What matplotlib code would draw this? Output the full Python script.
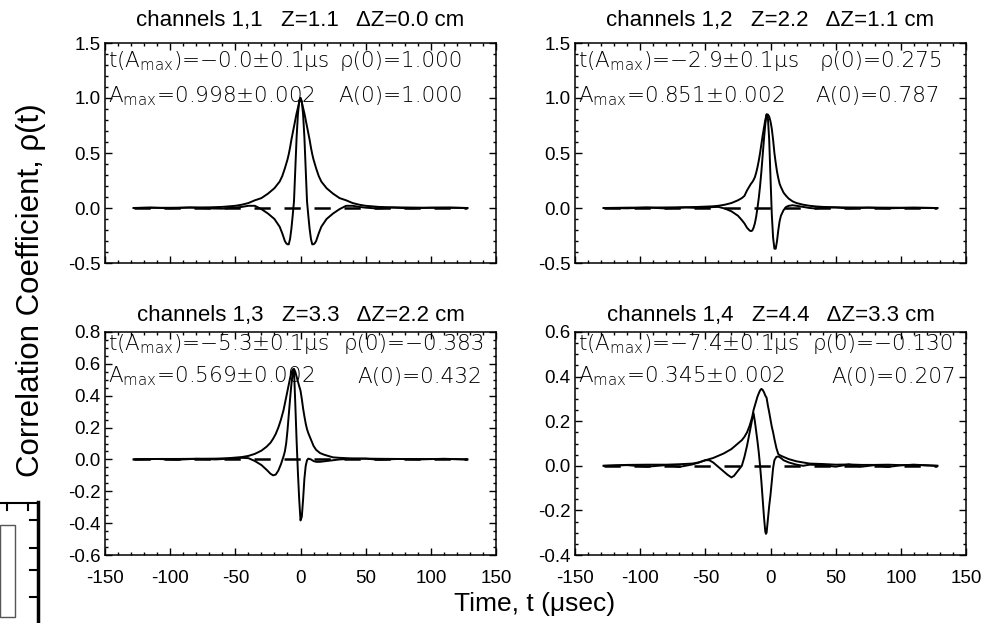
import numpy as np
import matplotlib
matplotlib.use("Agg")
import matplotlib.pyplot as plt
from matplotlib.ticker import MultipleLocator
from matplotlib.lines import Line2D
from matplotlib.patches import Rectangle

plt.rcParams["font.family"] = ["Liberation Sans", "DejaVu Sans"]
plt.rcParams["mathtext.default"] = "regular"
plt.rcParams["axes.unicode_minus"] = False

# ---- data (time lag in microseconds) ----
# channels 1,1
t11 = [-128, -115, -100, -85, -70, -60, -50, -45, -40, -35, -30, -25, -20, -16, -14, -12,
       -11, -10, -9, -8, -7, -6, -5, -4, -3, -2, -1, 0, 1, 2, 3, 4, 5, 6, 7, 8, 9, 10,
       11, 12, 14, 16, 20, 25, 30, 35, 40, 45, 50, 60, 70, 85, 100, 115, 128]
rho11 = [0.0, 0.004, -0.003, 0.005, -0.004, -0.006, 0.004, 0.01, 0.02, 0.02, -0.01, -0.05,
         -0.1, -0.17, -0.23, -0.3, -0.32, -0.33, -0.33, -0.28, -0.19, -0.07, 0.06, 0.35,
         0.64, 0.85, 0.97, 1.0, 0.97, 0.85, 0.64, 0.35, 0.06, -0.07, -0.19, -0.28, -0.33,
         -0.33, -0.32, -0.3, -0.23, -0.17, -0.1, -0.05, -0.01, 0.02, 0.02, 0.01, 0.003,
         -0.005, 0.004, -0.004, 0.003, 0.004, 0.0]
amp11 = [0.0, 0.002, 0.002, 0.004, 0.006, 0.01, 0.02, 0.03, 0.045, 0.07, 0.09, 0.13, 0.18,
         0.24, 0.29, 0.36, 0.4, 0.44, 0.49, 0.55, 0.62, 0.68, 0.74, 0.8, 0.86, 0.91, 0.96,
         1.0, 0.96, 0.91, 0.86, 0.8, 0.74, 0.68, 0.62, 0.55, 0.49, 0.44, 0.4, 0.36, 0.29,
         0.24, 0.18, 0.13, 0.09, 0.07, 0.045, 0.03, 0.02, 0.01, 0.006, 0.004, 0.002,
         0.002, 0.0]

# channels 1,2
t12 = [-128, -110, -95, -80, -65, -55, -45, -40, -35, -30, -25, -22, -20, -18, -16, -15,
       -14, -13, -12, -11, -10, -9, -8, -7, -6, -5, -4, -3, -2, -1, 0, 1, 2, 3, 4, 5, 6,
       7, 8, 10, 12, 14, 17, 20, 25, 30, 35, 40, 50, 60, 75, 90, 110, 128]
rho12 = [0.0, -0.003, 0.004, -0.004, 0.005, 0.0, 0.008, 0.01, -0.005, -0.03, -0.07, -0.11,
         -0.14, -0.18, -0.205, -0.21, -0.205, -0.18, -0.14, -0.08, 0.0, 0.09, 0.2, 0.33,
         0.48, 0.63, 0.76, 0.85, 0.82, 0.62, 0.275, -0.06, -0.27, -0.37, -0.37, -0.3,
         -0.2, -0.12, -0.07, -0.02, 0.01, 0.02, 0.025, 0.02, 0.01, 0.0, -0.005, 0.004,
         0.005, -0.004, 0.003, -0.003, 0.003, 0.0]
amp12 = [0.0, 0.003, 0.004, 0.005, 0.007, 0.01, 0.015, 0.02, 0.03, 0.045, 0.07, 0.09, 0.11,
         0.16, 0.2, 0.22, 0.235, 0.255, 0.28, 0.32, 0.37, 0.43, 0.5, 0.58, 0.66, 0.73, 0.8,
         0.851, 0.85, 0.83, 0.787, 0.72, 0.62, 0.5, 0.41, 0.33, 0.27, 0.22, 0.19, 0.14,
         0.11, 0.085, 0.06, 0.045, 0.03, 0.02, 0.014, 0.01, 0.006, 0.005, 0.004, 0.003,
         0.002, 0.0]

# channels 1,3
t13 = [-128, -110, -95, -80, -65, -55, -45, -40, -35, -30, -26, -23, -21, -19, -17, -15,
       -13, -12, -11, -10, -9, -8, -7, -6, -5, -4, -3, -2, -1, 0, 1, 2, 3, 4, 5, 6, 8,
       10, 12, 15, 18, 22, 25, 30, 40, 50, 60, 75, 90, 110, 128]
rho13 = [0.0, 0.003, -0.002, 0.004, 0.0, 0.005, 0.01, 0.008, -0.01, -0.035, -0.065, -0.09,
         -0.1, -0.095, -0.07, -0.03, 0.02, 0.05, 0.1, 0.18, 0.28, 0.38, 0.47, 0.54, 0.565,
         0.35, 0.12, -0.08, -0.25, -0.383, -0.36, -0.25, -0.12, -0.04, -0.005, 0.005, 0.0,
         -0.01, -0.015, -0.015, -0.012, -0.008, -0.005, 0.0, 0.004, 0.005, -0.002, 0.003,
         0.0, 0.004, 0.0]
amp13 = [0.0, 0.003, 0.003, 0.004, 0.005, 0.008, 0.015, 0.022, 0.035, 0.055, 0.08, 0.105,
         0.13, 0.16, 0.2, 0.25, 0.31, 0.35, 0.39, 0.43, 0.47, 0.51, 0.545, 0.565, 0.568,
         0.55, 0.52, 0.49, 0.46, 0.432, 0.38, 0.32, 0.27, 0.225, 0.19, 0.165, 0.125, 0.085,
         0.06, 0.04, 0.03, 0.02, 0.013, 0.01, 0.006, 0.005, 0.004, 0.003, 0.002, 0.003, 0.0]

# channels 1,4
t14 = [-128, -110, -95, -80, -70, -60, -55, -50, -47, -44, -40, -36, -33, -30, -28, -26,
       -24, -22, -20, -18, -16, -14, -13, -12, -11, -10, -9, -8, -7, -6, -5, -4, -3.5,
       -3, -2, -1, 0, 1, 2, 3, 4.5, 6, 8, 10, 14, 20, 25, 30, 40, 50, 60, 70, 80, 90, 100,
       110, 128]
rho14 = [0.0, 0.003, -0.004, 0.003, -0.005, 0.006, 0.015, 0.025, 0.025, 0.015, -0.005,
         -0.025, -0.04, -0.052, -0.045, -0.03, -0.015, 0.0, 0.04, 0.09, 0.15, 0.21, 0.236,
         0.2, 0.155, 0.11, 0.06, 0.0, -0.07, -0.15, -0.23, -0.295, -0.305, -0.3, -0.24,
         -0.18, -0.13, -0.07, -0.01, 0.025, 0.04, 0.042, 0.035, 0.025, 0.015, 0.005, 0.0,
         0.005, 0.003, -0.004, 0.006, -0.004, 0.003, -0.005, 0.002, 0.005, 0.0]
amp14 = [0.0, 0.004, 0.005, 0.005, 0.007, 0.01, 0.015, 0.025, 0.03, 0.035, 0.045, 0.055,
         0.065, 0.075, 0.085, 0.095, 0.105, 0.115, 0.13, 0.15, 0.18, 0.22, 0.25, 0.27,
         0.29, 0.31, 0.325, 0.338, 0.345, 0.34, 0.33, 0.315, 0.31, 0.305, 0.27, 0.24,
         0.207, 0.175, 0.15, 0.12, 0.08, 0.052, 0.045, 0.04, 0.03, 0.02, 0.015, 0.01,
         0.008, 0.005, 0.006, 0.004, 0.004, 0.005, 0.003, 0.004, 0.0]

titles = ["channels 1,1   Z=1.1   \u0394Z=0.0 cm", "channels 1,2   Z=2.2   \u0394Z=1.1 cm",
          "channels 1,3   Z=3.3   \u0394Z=2.2 cm", "channels 1,4   Z=4.4   \u0394Z=3.3 cm"]
t_peak = ["-0.0", "-2.9", "-5.3", "-7.4"]
a_max = ["0.998", "0.851", "0.569", "0.345"]
rho0 = ["1.000", "0.275", "-0.383", "-0.130"]
a0 = ["1.000", "0.787", "0.432", "0.207"]
ylims = [(-0.5, 1.5), (-0.5, 1.5), (-0.6, 0.8), (-0.4, 0.6)]
ymajor = [0.5, 0.5, 0.2, 0.2]
yminor = [0.1, 0.1, 0.05, 0.05]
t_end = 128

series = [(t11, rho11, amp11), (t12, rho12, amp12), (t13, rho13, amp13), (t14, rho14, amp14)]

fig = plt.figure(figsize=(9.94, 6.23), dpi=100)
W, H = 994.0, 623.0
# axes boxes in pixels: left, top, right, bottom
boxes = [(105, 43, 496, 263), (575, 43, 966, 263), (105, 332, 496, 555), (575, 332, 966, 555)]
# where the right-hand annotation ends (axes fraction)
rx = [(0.916, 0.916), (0.942, 0.934), (0.972, 0.964), (0.970, 0.975)]
line_y = [(0.918, 0.758), (0.918, 0.758), (0.945, 0.80), (0.945, 0.80)]

ann_font = dict(family=["DejaVu Sans"], fontweight="light", fontsize=15.5, color="black")

for i, (l, t, r, b) in enumerate(boxes):
    ax = fig.add_axes([l / W, 1 - b / H, (r - l) / W, (b - t) / H])
    tt, rho, amp = series[i]
    ax.plot([-t_end, t_end], [0, 0], color="black", lw=1.8, ls=(0, (6.5, 5.5)))
    ax.plot(tt, amp, color="black", lw=1.4)
    ax.plot(tt, rho, color="black", lw=1.4)
    ax.set_xlim(-150, 150)
    ax.set_ylim(*ylims[i])
    ax.xaxis.set_major_locator(MultipleLocator(50))
    ax.xaxis.set_minor_locator(MultipleLocator(10))
    ax.yaxis.set_major_locator(MultipleLocator(ymajor[i]))
    ax.yaxis.set_minor_locator(MultipleLocator(yminor[i]))
    ax.tick_params(which="both", direction="in", top=True, right=True, width=1.0)
    ax.tick_params(which="major", length=5, labelsize=13.5)
    ax.tick_params(which="minor", length=2.5)
    ax.tick_params(axis="x", pad=11)
    ax.tick_params(axis="y", pad=3)
    ax.yaxis.set_major_formatter(plt.FormatStrFormatter("%.1f"))
    if i < 2:
        ax.tick_params(axis="x", labelbottom=False)
    for s in ax.spines.values():
        s.set_linewidth(1.1)
    ax.set_title(titles[i], fontsize=16, pad=12 if i < 2 else 8)

    y1, y2 = line_y[i]
    ax.text(0.008, y1, "t(A$_{max}$)=" + t_peak[i].replace("-", "\u2212") + "\u00b10.1\u03bcs",
            transform=ax.transAxes, ha="left", va="center", **ann_font)
    ax.text(rx[i][0], y1, "\u03c1(0)=" + rho0[i].replace("-", "\u2212"),
            transform=ax.transAxes, ha="right", va="center", **ann_font)
    ax.text(0.008, y2, "A$_{max}$=" + a_max[i] + "\u00b10.002",
            transform=ax.transAxes, ha="left", va="center", **ann_font)
    ax.text(rx[i][1], y2, "A(0)=" + a0[i],
            transform=ax.transAxes, ha="right", va="center", **ann_font)

fig.text(31 / W, 1 - 290 / H, "Correlation Coefficient, \u03c1(t)", rotation=90,
         ha="center", va="center", fontsize=22.5)
fig.text(535 / W, 1 - 604 / H, "Time, t (\u03bcsec)", ha="center", va="center", fontsize=19)

# fragment of a neighbouring figure cropped into the lower left corner
px = lambda x, y: (x / W, 1 - y / H)
fig.add_artist(Rectangle(px(0, 617), 15 / W, 92 / H, fill=False, ec="#555555", lw=1.0,
                         transform=fig.transFigure))
fig.add_artist(Line2D([38 / W, 38 / W], [1 - 502 / H, 0], color="black", lw=2.5,
                      transform=fig.transFigure))
fig.add_artist(Line2D([0, 38 / W], [1 - 503 / H, 1 - 503 / H], color="black", lw=1.5,
                      transform=fig.transFigure))
for yy in [520, 548, 570, 597]:
    fig.add_artist(Line2D([30 / W, 38 / W], [1 - yy / H, 1 - yy / H], color="black", lw=1.5,
                          transform=fig.transFigure))
for xx in [7, 28]:
    fig.add_artist(Line2D([xx / W, xx / W], [1 - 503 / H, 1 - 510 / H], color="black", lw=1.5,
                          transform=fig.transFigure))

fig.savefig("out.png", dpi=100)
